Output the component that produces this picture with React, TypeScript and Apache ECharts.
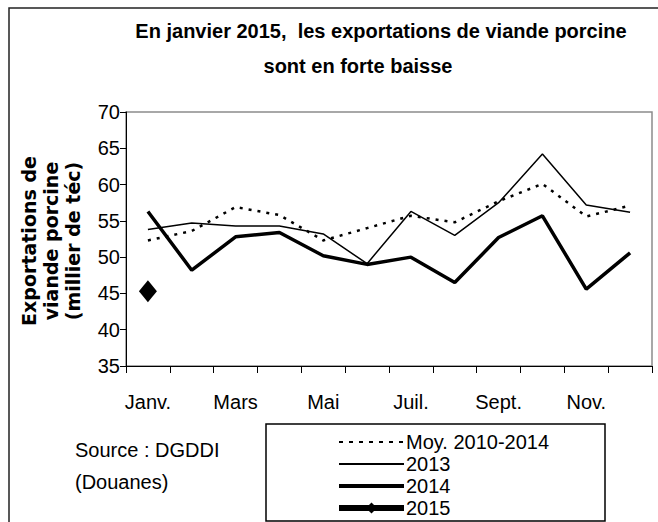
import React, { useEffect, useRef } from "react";
import * as echarts from "echarts";

const months = ["Janv.", "Févr.", "Mars", "Avril", "Mai", "Juin", "Juil.", "Août", "Sept.", "Oct.", "Nov.", "Déc."];
const moy = [52.3, 53.6, 56.9, 55.8, 52.3, 54.0, 55.7, 54.8, 57.7, 60.1, 55.6, 57.1];
const y2013 = [53.8, 54.7, 54.3, 54.3, 53.2, 49.1, 56.3, 53.0, 57.5, 64.2, 57.2, 56.2];
const y2014 = [56.3, 48.2, 52.8, 53.4, 50.2, 49.0, 50.0, 46.5, 52.7, 55.7, 45.6, 50.6];
const y2015 = [45.3];
const seriesNames = ["Moy. 2010-2014", "2013", "2014", "2015"];
const titleLines = ["En janvier 2015,  les exportations de viande porcine", "sont en forte baisse"];
const yTitleLines = ["Exportations de", "viande porcine", "(millier de téc)"];
const sourceLines = ["Source : DGDDI", "(Douanes)"];

const FONT = "'Liberation Sans', Arial, sans-serif";

export default function App() {
  const ref = useRef<HTMLDivElement>(null);
  useEffect(() => {
    document.body.style.margin = "0";
    const chart = echarts.init(ref.current!, null, { renderer: "svg" });
    const option: any = {
      animation: false,
      backgroundColor: "#fff",
      grid: {
        left: 126,
        top: 112,
        right: 6,
        bottom: 156,
        show: true,
        borderColor: "#8c8c8c",
        borderWidth: 1.5,
      },
      xAxis: {
        type: "category",
        data: months,
        boundaryGap: true,
        axisLine: { lineStyle: { color: "#000", width: 1 } },
        axisTick: { show: true, interval: 0, length: 7, lineStyle: { color: "#000" } },
        axisLabel: {
          interval: 1,
          color: "#000",
          fontFamily: FONT,
          fontSize: 20,
          margin: 26,
        },
        splitLine: { show: false },
      },
      yAxis: {
        type: "value",
        min: 35,
        max: 70,
        interval: 5,
        axisLine: { show: true, lineStyle: { color: "#000", width: 1 } },
        axisTick: { show: true, length: 6, lineStyle: { color: "#000" } },
        axisLabel: { color: "#000", fontFamily: FONT, fontSize: 20, margin: 6 },
        splitLine: { show: false },
      },
      legend: {
        orient: "vertical",
        left: 336,
        top: 432,
        itemWidth: 65,
        itemHeight: 14,
        itemGap: 2,
        padding: 0,
        data: [
          { name: seriesNames[0], itemStyle: { opacity: 0 }, lineStyle: { width: 2, type: [4, 6] } },
          { name: seriesNames[1], itemStyle: { opacity: 0 }, lineStyle: { width: 2 } },
          { name: seriesNames[2], itemStyle: { opacity: 0 }, lineStyle: { width: 4 } },
          { name: seriesNames[3], lineStyle: { width: 6 } },
        ],
        textStyle: { color: "#000", fontFamily: FONT, fontSize: 20, lineHeight: 20, padding: [0, 0, 0, -3] },
      },
      series: [
        {
          name: seriesNames[0],
          type: "line",
          data: moy,
          symbol: "none",
          lineStyle: { color: "#000", width: 2.5, type: [3, 6] },
          itemStyle: { color: "#000" },
        },
        {
          name: seriesNames[1],
          type: "line",
          data: y2013,
          symbol: "none",
          lineStyle: { color: "#000", width: 1.5 },
          itemStyle: { color: "#000" },
        },
        {
          name: seriesNames[2],
          type: "line",
          data: y2014,
          symbol: "none",
          lineStyle: { color: "#000", width: 3.5 },
          itemStyle: { color: "#000" },
        },
        {
          name: seriesNames[3],
          type: "line",
          data: y2015,
          symbol: "diamond",
          symbolSize: [18, 22],
          showSymbol: true,
          lineStyle: { color: "#000", width: 5 },
          itemStyle: { color: "#000" },
        },
      ],
      graphic: [
        {
          type: "rect",
          shape: { x: 9, y: 8, width: 700, height: 600 },
          style: { fill: "none", stroke: "#222", lineWidth: 1.5 },
          silent: true,
          z: -1,
        },
        {
          type: "text",
          x: 381,
          y: 31,
          style: {
            text: titleLines[0],
            fill: "#000",
            font: `bold 20px ${FONT}`,
            textAlign: "center",
            textVerticalAlign: "middle",
          },
        },
        {
          type: "text",
          x: 358,
          y: 66,
          style: {
            text: titleLines[1],
            fill: "#000",
            font: `bold 20px ${FONT}`,
            textAlign: "center",
            textVerticalAlign: "middle",
          },
        },
        ...yTitleLines.map((t, i) => ({
          type: "text",
          x: 29 + i * 22,
          y: 241,
          rotation: Math.PI / 2,
          style: {
            text: t,
            fill: "#000",
            font: "bold 19px 'DejaVu Sans', sans-serif",
            textAlign: "center",
            textVerticalAlign: "middle",
          },
        })),
        ...sourceLines.map((t, i) => ({
          type: "text",
          x: 75,
          y: 450 + i * 32,
          style: {
            text: t,
            fill: "#000",
            font: `20px ${FONT}`,
            textAlign: "left",
            textVerticalAlign: "middle",
          },
        })),
        {
          type: "rect",
          shape: { x: 266, y: 424, width: 339, height: 97 },
          style: { fill: "none", stroke: "#000", lineWidth: 1.5 },
          silent: true,
          z: -1,
        },
      ],
    };
    chart.setOption(option);
    return () => chart.dispose();
  }, []);
  return <div ref={ref} style={{ width: 658, height: 522 }} />;
}
